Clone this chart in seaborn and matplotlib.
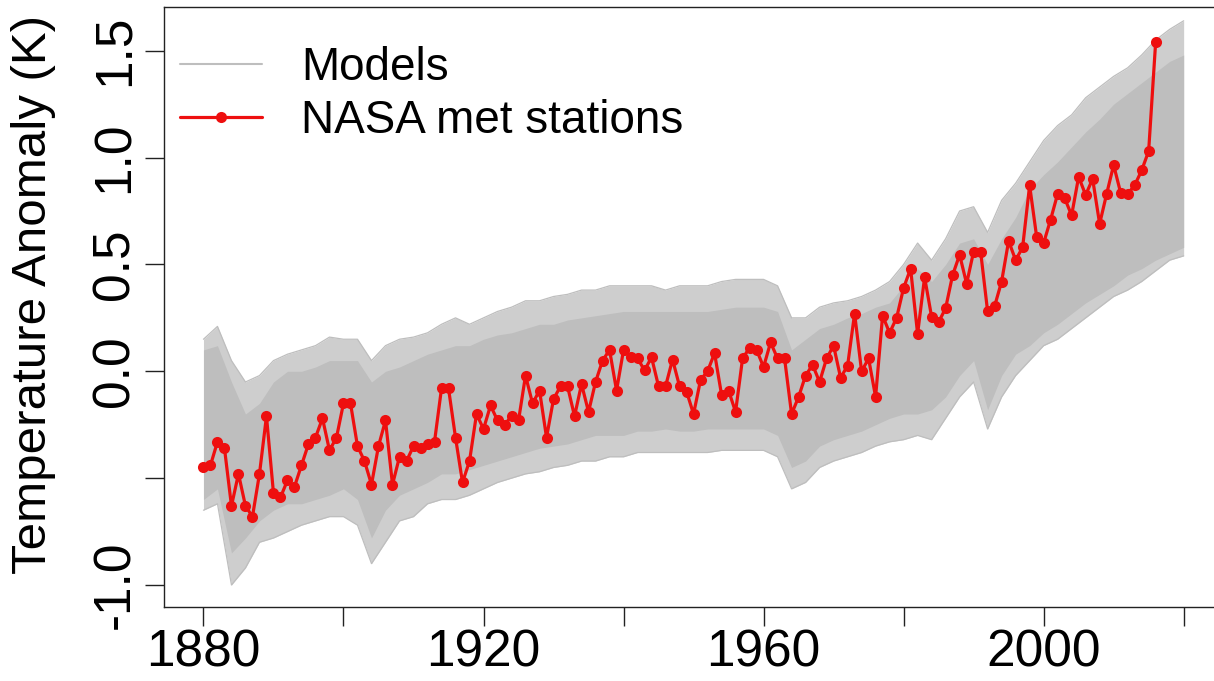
import numpy as np
import pandas as pd
import seaborn as sns
import matplotlib.pyplot as plt
from matplotlib.lines import Line2D

# NASA met-station annual anomalies (K)
nasa_years = list(range(1880, 2017))
nasa_vals = [
    -0.45, -0.44, -0.33, -0.36, -0.63, -0.48, -0.63, -0.68, -0.48, -0.21,
    -0.57, -0.59, -0.51, -0.54, -0.44, -0.34, -0.31, -0.22, -0.37, -0.31,
    -0.15, -0.15, -0.35, -0.42, -0.53, -0.35, -0.23, -0.53, -0.40, -0.42,
    -0.35, -0.36, -0.34, -0.33, -0.08, -0.08, -0.31, -0.52, -0.42, -0.20,
    -0.27, -0.16, -0.23, -0.25, -0.21, -0.23, -0.02, -0.15, -0.09, -0.31,
    -0.13, -0.07, -0.07, -0.21, -0.06, -0.19, -0.05, 0.05, 0.10, -0.09,
    0.10, 0.065, 0.06, 0.005, 0.065, -0.07, -0.07, 0.055, -0.07, -0.095,
    -0.20, -0.04, 0.00, 0.085, -0.11, -0.09, -0.19, 0.06, 0.11, 0.10,
    0.02, 0.135, 0.06, 0.06, -0.20, -0.12, -0.02, 0.03, -0.05, 0.06,
    0.12, -0.03, 0.026, 0.27, 0.00, 0.06, -0.12, 0.26, 0.18, 0.25,
    0.39, 0.48, 0.175, 0.44, 0.255, 0.23, 0.295, 0.45, 0.545, 0.41,
    0.56, 0.56, 0.28, 0.305, 0.42, 0.61, 0.52, 0.58, 0.87, 0.63,
    0.60, 0.71, 0.83, 0.81, 0.73, 0.91, 0.825, 0.90, 0.69, 0.83,
    0.965, 0.835, 0.83, 0.87, 0.94, 1.03, 1.54,
]

# model ensemble: dense core and outer reach of the grey band, every 2 years
model_years = list(range(1880, 2021, 2))
core_upper = [
    0.10, 0.12, -0.05, -0.20, -0.15, -0.05, 0.00, 0.00, 0.02, 0.05,
    0.05, 0.05, -0.05, 0.00, 0.02, 0.05, 0.08, 0.10, 0.12, 0.12,
    0.15, 0.17, 0.18, 0.20, 0.22, 0.22, 0.24, 0.25, 0.26, 0.27,
    0.28, 0.28, 0.28, 0.28, 0.28, 0.28, 0.28, 0.29, 0.30, 0.30,
    0.30, 0.28, 0.10, 0.15, 0.20, 0.22, 0.25, 0.27, 0.30, 0.32,
    0.40, 0.48, 0.42, 0.50, 0.60, 0.62, 0.50, 0.62, 0.72, 0.85,
    0.92, 0.98, 1.05, 1.12, 1.18, 1.25, 1.30, 1.35, 1.40, 1.45,
    1.48,
]
core_lower = [
    -0.60, -0.55, -0.85, -0.78, -0.70, -0.65, -0.62, -0.62, -0.60, -0.58,
    -0.55, -0.60, -0.78, -0.65, -0.58, -0.55, -0.52, -0.48, -0.48, -0.46,
    -0.44, -0.42, -0.40, -0.38, -0.36, -0.35, -0.34, -0.32, -0.30, -0.30,
    -0.30, -0.28, -0.28, -0.27, -0.28, -0.28, -0.27, -0.27, -0.27, -0.27,
    -0.27, -0.30, -0.45, -0.42, -0.35, -0.32, -0.30, -0.28, -0.25, -0.22,
    -0.20, -0.20, -0.18, -0.12, -0.02, 0.05, -0.18, -0.02, 0.08, 0.12,
    0.18, 0.22, 0.27, 0.32, 0.36, 0.40, 0.45, 0.48, 0.52, 0.55,
    0.58,
]
outer_upper = [
    0.15, 0.21, 0.05, -0.05, -0.02, 0.05, 0.08, 0.10, 0.12, 0.16,
    0.15, 0.15, 0.05, 0.12, 0.15, 0.16, 0.18, 0.22, 0.25, 0.22,
    0.25, 0.28, 0.30, 0.33, 0.33, 0.35, 0.36, 0.38, 0.38, 0.40,
    0.40, 0.40, 0.40, 0.38, 0.40, 0.40, 0.40, 0.42, 0.43, 0.43,
    0.43, 0.40, 0.25, 0.25, 0.30, 0.32, 0.33, 0.35, 0.38, 0.42,
    0.50, 0.60, 0.52, 0.62, 0.75, 0.77, 0.65, 0.80, 0.88, 0.98,
    1.08, 1.15, 1.20, 1.28, 1.33, 1.38, 1.42, 1.48, 1.55, 1.60,
    1.64,
]
outer_lower = [
    -0.65, -0.62, -1.00, -0.92, -0.80, -0.78, -0.75, -0.72, -0.70, -0.68,
    -0.68, -0.72, -0.90, -0.80, -0.70, -0.68, -0.62, -0.60, -0.60, -0.58,
    -0.55, -0.52, -0.50, -0.48, -0.47, -0.45, -0.44, -0.42, -0.42, -0.40,
    -0.40, -0.38, -0.38, -0.38, -0.38, -0.38, -0.38, -0.37, -0.37, -0.37,
    -0.37, -0.40, -0.55, -0.52, -0.45, -0.42, -0.40, -0.38, -0.35, -0.33,
    -0.32, -0.30, -0.32, -0.22, -0.12, -0.05, -0.27, -0.12, -0.02, 0.05,
    0.12, 0.15, 0.20, 0.25, 0.30, 0.35, 0.38, 0.42, 0.47, 0.52,
    0.54,
]

x_ticks = [1880, 1900, 1920, 1940, 1960, 1980, 2000, 2020]
x_labels = ["1880", "", "1920", "", "1960", "", "2000", ""]
y_ticks = [-1.0, -0.5, 0.0, 0.5, 1.0, 1.5]
y_labels = ["-1.0", "", "0.0", "0.5", "1.0", "1.5"]

nasa = pd.DataFrame({"year": nasa_years, "anom": nasa_vals})
models = pd.DataFrame({"year": model_years, "core_upper": core_upper, "core_lower": core_lower,
                       "outer_upper": outer_upper, "outer_lower": outer_lower})

sns.set_style("ticks")
plt.rcParams["font.family"] = ["Liberation Sans", "DejaVu Sans"]
plt.rcParams["text.color"] = "black"
plt.rcParams["axes.labelcolor"] = "black"

grey = "#BEBEBE"
light = "#CECECE"
red = "#EE0F0F"
fig = plt.figure(figsize=(12.14, 6.81), dpi=100)
ax = fig.add_axes([0.1353, 0.1091, 0.872, 0.8806])

ax.fill_between(models["year"], models["outer_lower"], models["outer_upper"], color=light, lw=0)
ax.fill_between(models["year"], models["core_lower"], models["core_upper"], color=grey, lw=0)
for col in ["outer_upper", "outer_lower"]:
    sns.lineplot(data=models, x="year", y=col, color=grey, lw=0.9, ax=ax)

sns.lineplot(data=nasa, x="year", y="anom", color=red, lw=2.3,
             marker="o", markersize=8, markeredgewidth=0, ax=ax)

# R-style 4% padding
ax.set_xlim(1874.4, 2025.6)
ax.set_ylim(-1.1015, 1.7045)

ax.set_xticks(x_ticks)
ax.set_xticklabels(x_labels)
ax.set_yticks(y_ticks)
ax.set_yticklabels(y_labels, rotation=90, va="center")

for s in ax.spines.values():
    s.set_color("#222222")
    s.set_linewidth(1.0)

ax.tick_params(axis="both", which="both", direction="out", length=13.5, width=1.0,
               color="#222222", labelsize=37, labelcolor="black",
               bottom=True, left=True)
ax.tick_params(axis="x", pad=2)
ax.tick_params(axis="y", pad=4)

ax.set_xlabel("")
ax.set_ylabel("Temperature Anomaly (K)", fontsize=35.5, color="black")
ax.yaxis.set_label_coords(-0.1023, 0.52)

handles = [
    Line2D([], [], color=grey, lw=1.5),
    Line2D([], [], color=red, lw=2.3, marker="o", markersize=8, markeredgewidth=0),
]
ax.legend(handles, ["Models", "NASA met stations"], loc="upper left",
          bbox_to_anchor=(0.0061, 0.9504), frameon=False, fontsize=33,
          handlelength=1.8, handletextpad=0.85, labelspacing=0.19,
          borderaxespad=0.0, borderpad=0.2)

fig.savefig("out.png", dpi=100)
